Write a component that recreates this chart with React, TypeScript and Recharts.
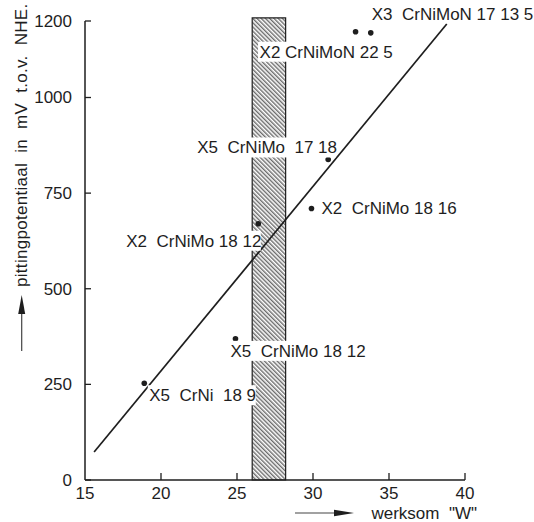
import React from "react";
import { ScatterChart, Scatter, XAxis, YAxis, ReferenceArea, Label } from "recharts";

// ---- data ----
const steelNames = [
  "X5\u00A0 CrNi\u00A0 18 9",
  "X5\u00A0 CrNiMo 18 12",
  "X2\u00A0 CrNiMo 18 12",
  "X2\u00A0 CrNiMo 18 16",
  "X5\u00A0 CrNiMo\u00A0 17 18",
  "X2 CrNiMoN 22 5",
  "X3\u00A0 CrNiMoN 17 13 5",
];
const werksom = [18.9, 24.9, 26.4, 29.9, 31.0, 32.8, 33.8];
const pitting = [253, 369, 670, 710, 838, 1172, 1169];

const trendW = [15.6, 38.8];
const trendP = [73, 1192];

const bandW = [26.0, 28.2];
const bandP = [0, 1208];

const xTicks = [15, 20, 25, 30, 35, 40];
const yTicks = [0, 250, 500, 750, 1000, 1200];

// ---- label styling (pixel offsets from the dot, box width) ----
const labelStyle: Record<string, [number, number, number]> = {
  "X5\u00A0 CrNi\u00A0 18 9": [5, 12, 108],
  "X5\u00A0 CrNiMo 18 12": [-5, 12, 136],
  "X2\u00A0 CrNiMo 18 12": [-132, 17, 136],
  "X2\u00A0 CrNiMo 18 16": [10, 0, 136],
  "X5\u00A0 CrNiMo\u00A0 17 18": [-131, -12, 140],
  "X2 CrNiMoN 22 5": [-96, 20, 139],
  "X3\u00A0 CrNiMoN 17 13 5": [1, -19, 0],
};

const points = werksom.map((w, i) => ({ w, p: pitting[i], name: steelNames[i] }));
const trend = trendW.map((w, i) => ({ w, p: trendP[i] }));

const FONT = "'Liberation Sans', Arial, Helvetica, sans-serif";
const INK = "#1e1e1e";
const FS = 17;

const PointShape = (props: any) => {
  const { cx, cy, payload } = props;
  const st = labelStyle[payload.name] || [6, 0, 0];
  const lx = cx + st[0];
  const ly = cy + st[1];
  return (
    <g>
      <circle cx={cx} cy={cy} r={2.8} fill={INK} />
      {st[2] > 0 && (
        <rect x={lx - 1.5} y={ly - 10} width={st[2]} height={20} fill="#fff" />
      )}
      <text x={lx} y={ly} dy="0.35em" fontFamily={FONT} fontSize={FS} fill={INK}>
        {payload.name}
      </text>
    </g>
  );
};

const YTick = (props: any) => {
  const { x, y, payload } = props;
  return (
    <g>
      <text x={x} y={y} dy="0.35em" textAnchor="end" fontFamily={FONT} fontSize={FS} fill={INK}>
        {payload.value}
      </text>
      <line x1={x + 13} x2={x + 19} y1={y} y2={y} stroke={INK} strokeWidth={1.3} />
    </g>
  );
};

const XTick = (props: any) => {
  const { x, y, payload } = props;
  return (
    <g>
      <text x={x} y={y} dy="0.71em" textAnchor="middle" fontFamily={FONT} fontSize={FS} fill={INK}>
        {payload.value}
      </text>
      {payload.value !== 15 && (
        <line x1={x} x2={x} y1={y - 7} y2={y - 14} stroke={INK} strokeWidth={1.3} />
      )}
    </g>
  );
};

const XLabel = () => (
  <g>
    <line x1={295} x2={340} y1={513} y2={513} stroke="#444" strokeWidth={1.2} />
    <polygon points="354,513 334,509.8 334,516.2" fill={INK} />
    <text x={477} y={513} dy="0.35em" textAnchor="end" fontFamily={FONT} fontSize={FS} fill={INK}>
      {"werksom\u00A0 \"W\""}
    </text>
  </g>
);

const YLabel = () => (
  <g>
    <line x1={21.7} x2={21.7} y1={351} y2={310} stroke="#444" strokeWidth={1.2} />
    <polygon points="21.7,295 18.2,314 25.2,314" fill={INK} />
    <text
      x={27}
      y={287}
      transform="rotate(-90 27 287)"
      fontFamily={FONT}
      fontSize={FS}
      letterSpacing={0.3}
      fill={INK}
    >
      {"pittingpotentiaal\u00A0 in\u00A0 mV\u00A0 t.o.v.\u00A0 NHE."}
    </text>
  </g>
);

export default function App() {
  return (
    <div style={{ position: "absolute", left: 0, top: 0, width: 534, height: 522, background: "#fff" }}>
      <svg width={0} height={0} style={{ position: "absolute" }}>
        <defs>
          <pattern id="hatch" patternUnits="userSpaceOnUse" width={3} height={10} patternTransform="rotate(-45)">
            <rect width={3} height={10} fill="#ffffff" />
            <line x1={0.8} x2={0.8} y1={0} y2={10} stroke="#2e2e2e" strokeWidth={1} />
          </pattern>
        </defs>
      </svg>
      <ScatterChart width={534} height={522} margin={{ top: 21, right: 69, bottom: 12, left: 25 }}>
        <XAxis
          type="number"
          dataKey="w"
          domain={[15, 40]}
          ticks={xTicks}
          height={30}
          tickSize={0}
          tickMargin={7}
          tickLine={false}
          tick={<XTick />}
          axisLine={{ stroke: INK, strokeWidth: 1.5 }}
          interval={0}
        >
          <Label content={<XLabel />} />
        </XAxis>
        <YAxis
          type="number"
          dataKey="p"
          domain={[0, 1200]}
          ticks={yTicks}
          width={60}
          tickSize={0}
          tickMargin={13}
          tickLine={false}
          tick={<YTick />}
          axisLine={{ stroke: INK, strokeWidth: 1.5 }}
          interval={0}
        >
          <Label content={<YLabel />} />
        </YAxis>
        <ReferenceArea
          x1={bandW[0]}
          x2={bandW[1]}
          y1={bandP[0]}
          y2={bandP[1]}
          ifOverflow="visible"
          fill="url(#hatch)"
          fillOpacity={1}
          stroke={INK}
          strokeWidth={1.2}
        />
        <Scatter
          data={trend}
          line={{ stroke: INK, strokeWidth: 1.7 }}
          shape={() => <g />}
          isAnimationActive={false}
        />
        <Scatter data={points} shape={<PointShape />} isAnimationActive={false} />
      </ScatterChart>
    </div>
  );
}
